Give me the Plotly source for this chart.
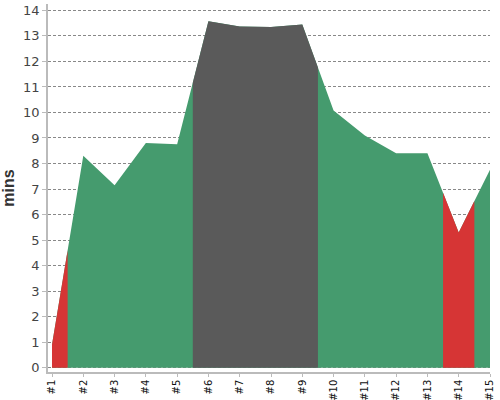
import plotly.graph_objects as go

labels = ["#1", "#2", "#3", "#4", "#5", "#6", "#7", "#8", "#9", "#10", "#11", "#12", "#13", "#14", "#15"]
values = [0.9, 8.3, 7.15, 8.8, 8.75, 13.57, 13.37, 13.35, 13.45, 10.08, 9.1, 8.4, 8.4, 5.3, 7.76]
# colour group of each point
groups = ["low", "mid", "mid", "mid", "mid", "high", "high", "high", "high", "mid", "mid", "mid", "mid", "low", "mid"]
colors = {"low": "#d63535", "mid": "#459b6e", "high": "#5a5a5a"}

n = len(values)
xs = list(range(n))

fig = go.Figure()

# base area in the "mid" colour, whole series
fig.add_trace(go.Scatter(
    x=xs, y=values, mode="lines", line=dict(width=0, color=colors["mid"]),
    fill="tozeroy", fillcolor=colors["mid"], showlegend=False, hoverinfo="skip"))

# overlay runs of consecutive non-mid points, split at the half-way points
runs = []
start = 0
for i in range(1, n + 1):
    if i == n or groups[i] != groups[start]:
        runs.append((start, i - 1))
        start = i

for a, b in runs:
    g = groups[a]
    if g == "mid":
        continue
    px, py = [], []
    if a > 0:
        px.append(a - 0.5)
        py.append((values[a - 1] + values[a]) / 2)
    for k in range(a, b + 1):
        px.append(xs[k])
        py.append(values[k])
    if b < n - 1:
        px.append(b + 0.5)
        py.append((values[b] + values[b + 1]) / 2)
    fig.add_trace(go.Scatter(
        x=px, y=py, mode="lines", line=dict(width=0, color=colors[g]),
        fill="tozeroy", fillcolor=colors[g], showlegend=False, hoverinfo="skip"))

fig.update_layout(
    width=500, height=400,
    margin=dict(l=47.5, r=10, t=4, b=28),
    plot_bgcolor="white", paper_bgcolor="white",
    font=dict(family="DejaVu Sans", color="#444"),
    showlegend=False,
)
fig.update_xaxes(
    range=[-0.128, 14], tickmode="array", tickvals=xs, ticktext=labels,
    tickangle=-90, tickfont=dict(size=10, color="#111"),
    showgrid=False, zeroline=False, showline=True, linecolor="#bbb", linewidth=1.5,
    ticks="outside", ticklen=3, tickcolor="#bbb", automargin=False,
    ticklabelstandoff=-1,
)
fig.update_yaxes(
    range=[-0.17, 14.25], tickmode="array", tickvals=list(range(0, 15)),
    tickfont=dict(size=13, color="#444"),
    showgrid=True, gridcolor="#888", griddash="3px,2px", gridwidth=1,
    zeroline=False, showline=True, linecolor="#bbb", linewidth=1.5,
    ticks="outside", ticklen=4, tickcolor="#bbb",
    title=dict(text="<b>mins</b>", font=dict(family="Liberation Sans", size=16, color="#333"), standoff=12),
    automargin=False, layer="below traces",
)
fig.write_html("out.html", config={"displayModeBar": False},
               post_script="document.body.style.margin='0px';")
